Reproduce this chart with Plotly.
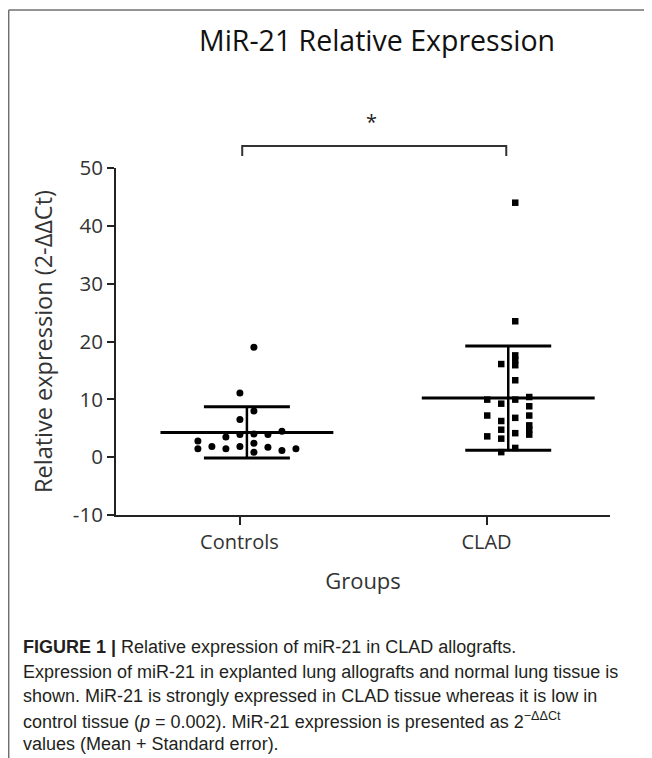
import numpy as np
import plotly.graph_objects as go

# ---------------- data ----------------
categories = ["Controls", "CLAD"]
tick_values_y = [-10, 0, 10, 20, 30, 40, 50]
tick_text_y = ["-10", "0", "10", "20", "30", "40", "50"]

controls_values = [19.0, 11.1, 8.0, 6.5, 4.5, 3.5, 3.9, 4.0, 3.9, 2.8,
                   1.45, 1.85, 1.45, 1.85, 2.4, 0.87, 1.7, 1.15, 1.45]
controls_cols = [0.5, -0.5, 0.5, -0.5, 2.5, -1.5, -0.5, 0.5, 1.5, -3.5,
                 -3.5, -2.5, -1.5, -0.5, 0.5, 0.5, 1.5, 2.5, 3.5]

clad_values = [44.0, 23.5, 17.6, 16.8, 15.9, 16.1, 13.3, 9.95, 9.95, 10.4,
               9.25, 8.8, 7.2, 7.2, 6.8, 6.25, 5.5, 4.75, 3.9, 4.75,
               3.6, 3.2, 4.15, 1.6, 0.87]
clad_cols = [0.5, 0.5, 0.5, 0.5, 0.5, -0.5, 0.5, -1.5, 0.5, 1.5,
             -0.5, 1.5, 1.5, -1.5, 0.5, -0.5, 1.5, 1.5, 1.5, -0.5,
             -1.5, -0.5, 0.5, 0.5, -0.5]

title_text = "MiR-21 Relative Expression"
y_title = "Relative expression (2-ΔΔCt)"
x_title = "Groups"
sig_text = "*"
caption_lines = [
    "<b>FIGURE 1 |</b> Relative expression of miR-21 in CLAD allografts.",
    "Expression of miR-21 in explanted lung allografts and normal lung tissue is",
    "shown. MiR-21 is strongly expressed in CLAD tissue whereas it is low in",
    "control tissue (<i>p</i> = 0.002). MiR-21 expression is presented as 2<sup>−ΔΔCt</sup>",
    "values (Mean + Standard error).",
]

# ---------------- layout geometry (reference pixels) ----------------
OFF = 8                      # page body margin
W_REF, H_REF = 652, 758
W, H = W_REF - OFF, H_REF - OFF
L, R, T, B = 116, 610, 168, 515  # plot area in reference pixels
pw, ph = R - L, B - T


def px(x):
    return (x - L) / pw


def py(y):
    return (B - y) / ph


group_shift = [0.03, 0.088]
col_step = 0.0567
FONT = "Open Sans"
DARK = "#222222"

fig = go.Figure()

groups = [(controls_values, controls_cols, "circle", 7),
          (clad_values, clad_cols, "square", 6.5)]

for gi, (vals, cols, sym, size) in enumerate(groups):
    c = gi + group_shift[gi]
    v = np.array(vals)
    m, sd = v.mean(), v.std(ddof=1)
    xs = [c + k * col_step for k in cols]
    fig.add_trace(go.Scatter(x=xs, y=vals, mode="markers",
                             marker=dict(symbol=sym, size=size, color="black",
                                         line=dict(width=0)),
                             showlegend=False, hoverinfo="y"))
    fig.add_trace(go.Scatter(x=[c - 0.35, c + 0.35], y=[m, m], mode="lines",
                             line=dict(color="black", width=3), showlegend=False))
    fig.add_trace(go.Scatter(x=[c, c], y=[m - sd, m + sd], mode="lines",
                             line=dict(color="black", width=2.5), showlegend=False))
    for yv in (m - sd, m + sd):
        fig.add_trace(go.Scatter(x=[c - 0.174, c + 0.174], y=[yv, yv], mode="lines",
                                 line=dict(color="black", width=3), showlegend=False))

shapes = []
bx0, bx1 = 0.011, 1.08
shapes.append(dict(type="path", xref="x", yref="paper",
                   path=f"M {bx0},{py(156)} L {bx0},{py(146)} L {bx1},{py(146)} L {bx1},{py(156)}",
                   line=dict(color="#333333", width=2)))
shapes.append(dict(type="line", xref="paper", yref="paper",
                   x0=px(8.7), x1=px(W_REF), y0=py(10), y1=py(10),
                   line=dict(color="#707070", width=1.5)))
shapes.append(dict(type="line", xref="paper", yref="paper",
                   x0=px(8.7), x1=px(8.7), y0=py(10), y1=py(H_REF),
                   line=dict(color="#707070", width=1.5)))

annotations = [
    dict(text=title_text, xref="paper", yref="paper", x=px(376.5), y=py(40),
         xanchor="center", yanchor="middle", showarrow=False,
         font=dict(family=FONT, size=28.5, color="#111111")),
    dict(text=sig_text, xref="x", yref="paper", x=0.536, y=py(121),
         xanchor="center", yanchor="middle", showarrow=False,
         font=dict(family=FONT, size=20, color="#222222")),
]
cap_y = [647, 672, 696, 720, 744]
for line, yy in zip(caption_lines, cap_y):
    annotations.append(dict(text=line, xref="paper", yref="paper", x=px(21), y=py(yy),
                            xanchor="left", yanchor="middle", showarrow=False,
                            align="left",
                            font=dict(family="Liberation Sans", size=18, color="#231f20")))

fig.update_layout(
    width=W, height=H,
    margin=dict(l=L - OFF, r=W_REF - R, t=T - OFF, b=H_REF - B, pad=0),
    paper_bgcolor="white", plot_bgcolor="white",
    shapes=shapes, annotations=annotations,
    xaxis=dict(range=[-0.5, 1.5], tickvals=[0, 1], ticktext=categories,
               showgrid=False, zeroline=False, showline=True, linecolor=DARK, linewidth=2,
               ticks="outside", ticklen=8, tickwidth=2, tickcolor=DARK,
               tickfont=dict(family=FONT, size=20, color="#333333"),
               title=dict(text=x_title, font=dict(family=FONT, size=22, color="#333333"),
                          standoff=20)),
    yaxis=dict(range=[-10, 50], tickvals=tick_values_y, ticktext=tick_text_y,
               showgrid=False, zeroline=False, showline=True, linecolor=DARK, linewidth=2,
               ticks="outside", ticklen=7, tickwidth=2, tickcolor=DARK,
               tickfont=dict(family=FONT, size=20.5, color="#333333"),
               title=dict(text=y_title, font=dict(family=FONT, size=23.5, color="#333333"),
                          standoff=14)),
)

fig.write_html("out.html", config={"displayModeBar": False})
